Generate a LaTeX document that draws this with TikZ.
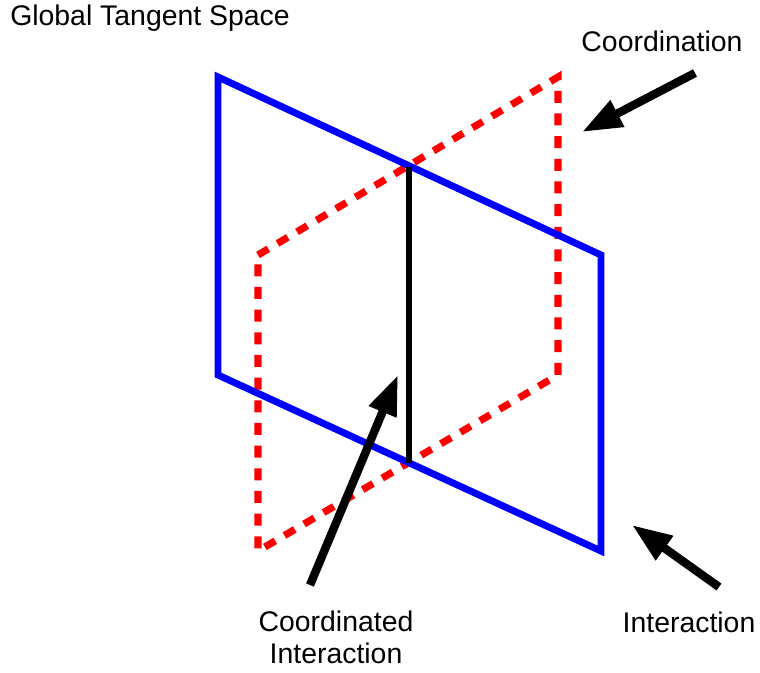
\documentclass[tikz,border=0pt]{standalone}
\usepackage{fontspec}
\setmainfont{Liberation Sans}
\usetikzlibrary{arrows.meta}
\definecolor{planeblue}{HTML}{0000FF}
\definecolor{planered}{HTML}{FF0000}

\begin{document}
\begin{tikzpicture}[
  x=0.75pt, y=-0.75pt,
  >={Triangle[length=30pt,width=21pt]},
  lbl/.style={font=\fontsize{21.3}{23.3}\selectfont,inner sep=0pt},
  bluepl/.style={draw=planeblue,line width=5.2pt,line join=miter},
  redpl/.style={draw=planered,line width=5.4pt,dash pattern=on 9pt off 8pt},
  ptr/.style={->,line width=6.3pt}
]
\useasboundingbox (0,0) rectangle (760,673);
% corners of the two planes
\coordinate (b1) at (218,77);  \coordinate (b2) at (601,255);
\coordinate (b3) at (601,551); \coordinate (b4) at (218,375);
\coordinate (r1) at (258,255); \coordinate (r2) at (558,77);
\coordinate (r3) at (558,375); \coordinate (r4) at (258,551);
\coordinate (i1) at (409,167); \coordinate (i2) at (409,463);
\draw[redpl] (r1) -- (r2) -- (r3) -- (r4) -- cycle;
\draw[bluepl] (b1) -- (b2) -- (b3) -- (b4) -- cycle;
\draw[line width=5.2pt] (i1) -- (i2);
% labels
\node[lbl,anchor=base west] (gts) at (10,26) {Global Tangent Space};
\node[lbl,anchor=base] (coord) at (662,52) {Coordination};
\node[lbl,anchor=base] (inter) at (689,632) {Interaction};
\node[lbl,anchor=base,align=center] (cint) at (336,663) {Coordinated\\Interaction};
% pointers
\coordinate (p1) at (695,73);  \coordinate (q1) at (582,132);
\coordinate (p2) at (719,587); \coordinate (q2) at (632,525);
\coordinate (p3) at (310,585); \coordinate (q3) at (398,375);
\draw[ptr] (p1) -- (q1);
\draw[ptr] (p2) -- (q2);
\draw[ptr] (p3) -- (q3);
\end{tikzpicture}
\end{document}
